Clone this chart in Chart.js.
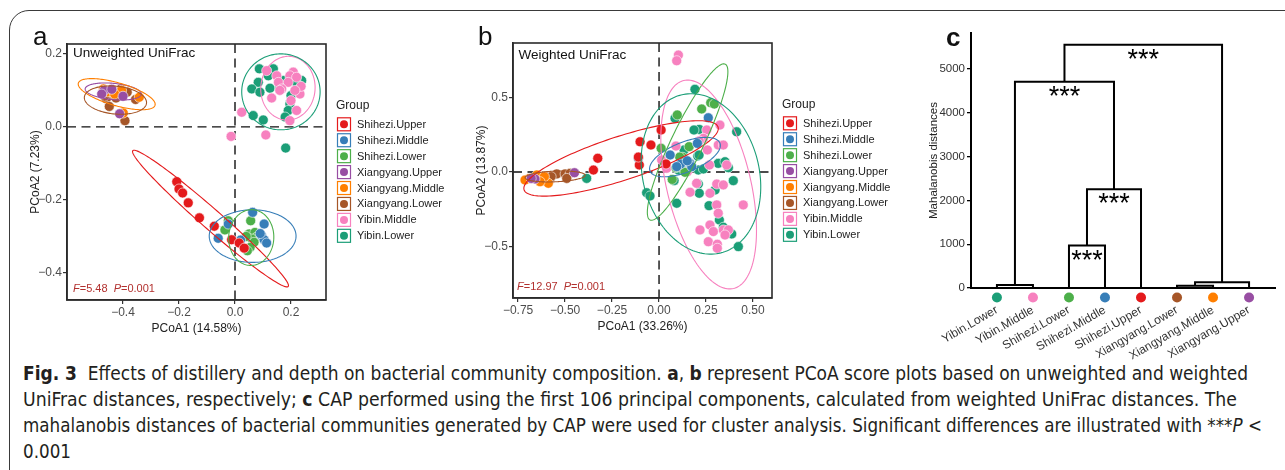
<!DOCTYPE html>
<html><head><meta charset="utf-8">
<script src="https://cdn.jsdelivr.net/npm/chart.js@4.4.0/dist/chart.umd.min.js"></script>
<style>
html,body{margin:0;padding:0;background:#fff;}
#root{position:relative;width:1285px;height:470px;overflow:hidden;background:#fff;}
#frame{position:absolute;left:9px;top:10px;width:1400px;height:600px;border:1.3px solid #3a3a3a;border-radius:20px 0 0 0;}
canvas{position:absolute;}
.plab{position:absolute;font-family:"Liberation Sans",Arial,sans-serif;font-size:26px;color:#111;line-height:1;}
#cap{position:absolute;left:23px;top:360px;font-family:"Liberation Sans Narrow","DejaVu Sans Condensed","Liberation Sans",sans-serif;font-size:19px;color:#231f20;}
#cap .ln{white-space:nowrap;height:26px;line-height:26px;}
#cap .ln span{display:inline-block;transform-origin:0 50%;}
</style></head>
<body>
<div id="root">
  <div id="frame"></div>
  <canvas id="cA" width="470" height="340" style="left:0;top:0"></canvas>
  <canvas id="cB" width="430" height="340" style="left:470px;top:0"></canvas>
  <canvas id="cC" width="385" height="360" style="left:900px;top:0"></canvas>
  <div class="plab" style="left:33px;top:23px">a</div>
  <div class="plab" style="left:478px;top:23px">b</div>
  <div class="plab" style="left:946px;top:24px;font-weight:bold">c</div>
  <div id="cap">
    <div class="ln" data-w="1225"><span><b>Fig. 3</b>&nbsp; Effects of distillery and depth on bacterial community composition. <b>a</b>, <b>b</b> represent PCoA score plots based on unweighted and weighted</span></div>
    <div class="ln" data-w="1214"><span>UniFrac distances, respectively; <b>c</b> CAP performed using the first 106 principal components, calculated from weighted UniFrac distances. The</span></div>
    <div class="ln" data-w="1239"><span>mahalanobis distances of bacterial communities generated by CAP were used for cluster analysis. Significant differences are illustrated with ***<i>P</i> &lt;</span></div>
    <div class="ln" data-w="0"><span>0.001</span></div>
  </div>
</div>
<script>
// ---------------- DATA ----------------
const groups = ['Shihezi.Upper','Shihezi.Middle','Shihezi.Lower','Xiangyang.Upper','Xiangyang.Middle','Xiangyang.Lower','Yibin.Middle','Yibin.Lower'];
const groupColors = ['#E41A1C','#377EB8','#4DAF4A','#984EA3','#FF7F00','#A65628','#F781BF','#1B9E77'];

// Panel a: Unweighted UniFrac PCoA scores [PCoA1, PCoA2]
const a_ShihUpper = [[-0.208,-0.150],[-0.200,-0.170],[-0.187,-0.181],[-0.167,-0.208],[-0.127,-0.249],[-0.074,-0.272],[-0.012,-0.309],[0.015,-0.318],[0.033,-0.332]];
const a_ShihMiddle = [[-0.060,-0.305],[-0.024,-0.266],[0.020,-0.310],[0.063,-0.234],[0.104,-0.266],[0.095,-0.298],[0.104,-0.309],[0.113,-0.318],[0.090,-0.292]];
const a_ShihLower = [[-0.024,-0.257],[-0.036,-0.282],[0.056,-0.257],[0.051,-0.293],[0.071,-0.289],[0.077,-0.302],[0.060,-0.307],[0.068,-0.316],[0.054,-0.330],[0.044,-0.339],[0.040,-0.300]];
const a_XiangUpper = [[-0.467,0.100],[-0.440,0.103],[-0.400,0.084],[-0.476,0.090],[-0.412,0.036]];
const a_XiangMiddle = [[-0.470,0.104],[-0.405,0.100],[-0.342,0.081],[-0.399,0.038],[-0.455,0.096],[-0.430,0.090]];
const a_XiangLower = [[-0.407,0.104],[-0.460,0.077],[-0.425,0.079],[-0.355,0.075],[-0.449,0.056],[-0.393,0.017],[-0.466,0.084],[-0.385,0.095]];
const a_YibinMiddle = [[0.113,0.154],[0.149,0.140],[0.155,0.122],[0.208,0.150],[0.196,0.140],[0.220,0.136],[0.190,0.122],[0.167,0.104],[0.131,0.079],[0.232,0.090],[0.200,0.072],[0.220,0.045],[0.196,0.017],[0.024,0.040],[-0.014,-0.026],[0.110,-0.022],[0.236,0.111],[0.214,0.100],[0.160,0.100]];
const a_YibinLower = [[0.087,0.159],[0.137,0.159],[0.119,0.140],[0.083,0.122],[0.060,0.104],[0.089,0.095],[0.125,0.106],[0.173,0.127],[0.238,0.127],[0.200,0.086],[0.196,0.063],[0.190,0.045],[0.179,0.027],[0.065,0.031],[0.101,0.019],[0.181,-0.058],[0.220,0.120],[0.160,0.110]];

// Panel b: Weighted UniFrac PCoA scores
const b_ShihUpper = [[0.011,0.282],[-0.101,0.203],[-0.043,0.181],[-0.326,0.092],[-0.349,0.013],[-0.105,0.047],[0.037,0.054],[-0.110,0.100]];
const b_ShihMiddle = [[0.262,0.364],[0.204,0.192],[0.059,0.114],[-0.110,0.092],[0.165,0.058],[0.115,0.054],[0.174,0.036],[0.094,0.036],[0.150,0.075]];
const b_ShihLower = [[0.097,0.383],[0.227,0.423],[0.275,0.465],[0.294,0.456],[0.011,0.159],[0.160,0.170],[0.126,0.099],[0.090,0.029],[0.138,-0.002],[0.110,0.100],[0.070,-0.050]];
const b_XiangUpper = [[-0.660,-0.047],[-0.450,-0.005],[-0.680,-0.043]];
const b_XiangMiddle = [[-0.690,-0.043],[-0.589,-0.076],[-0.650,-0.020],[-0.610,-0.031],[-0.633,-0.065],[-0.713,-0.054]];
const b_XiangLower = [[-0.606,-0.027],[-0.544,-0.013],[-0.500,-0.013],[-0.473,-0.009],[-0.491,-0.043],[-0.574,-0.031]];
const b_YibinMiddle = [[0.103,0.785],[0.094,0.747],[0.254,0.282],[0.236,0.226],[0.324,0.315],[0.315,0.181],[0.342,0.181],[0.014,0.081],[0.268,0.047],[0.360,0.047],[0.165,-0.136],[0.307,-0.081],[0.342,-0.087],[0.271,-0.143],[0.307,-0.221],[0.315,-0.277],[0.448,-0.221],[0.218,-0.389],[0.271,-0.356],[0.289,-0.400],[0.342,-0.389],[0.369,-0.389],[0.351,-0.423],[0.262,-0.468],[0.310,-0.485],[0.310,-0.512],[0.090,0.174],[0.041,0.025],[0.200,-0.076],[0.257,0.148],[0.214,0.208],[0.150,0.002]];
const b_YibinLower = [[0.191,0.555],[0.085,0.360],[0.214,0.286],[0.186,0.282],[0.413,0.270],[0.206,0.107],[0.315,0.058],[0.351,0.069],[0.369,0.029],[0.209,0.013],[0.080,-0.058],[0.103,0.013],[0.121,0.031],[0.209,-0.081],[0.214,-0.143],[0.298,-0.121],[0.395,-0.058],[0.094,-0.210],[0.266,-0.226],[0.321,-0.322],[0.342,-0.371],[0.387,-0.416],[0.422,-0.501],[-0.066,-0.139],[-0.048,-0.161],[-0.385,-0.043],[0.165,0.031],[0.133,0.148],[0.213,0.114],[0.236,0.020]];

// Confidence ellipses: [centre x, centre y, axis-1 x, axis-1 y, axis-2 x, axis-2 y] (data units)
const ellA_ShihUpper = [-0.0875,-0.251,0.2775,-0.186,-0.0235,-0.0207];
const ellA_ShihMiddle = [0.063,-0.299,0.155,0,0,0.072];
const ellA_ShihLower = [0.058,-0.303,0.080,-0.008,0.010,0.076];
const ellA_XiangUpper = [-0.435,0.097,0.100,-0.008,0.006,0.022];
const ellA_XiangMiddle = [-0.4225,0.0896,0.137,-0.025,-0.011,0.0345];
const ellA_XiangLower = [-0.427,0.0734,0.111,-0.008,0.004,0.038];
const ellA_YibinMiddle = [0.189,0.106,0.095,0.020,-0.020,0.085];
const ellA_YibinLower = [0.164,0.096,0.140,0,0,0.104];
const ellB_ShihUpper = [-0.202,0.091,0.516,0.211,0.036,-0.140];
const ellB_ShihMiddle = [0.138,0.100,0.186,0.094,0.030,-0.093];
const ellB_ShihLower = [0.152,0.201,0.200,0.523,0.077,-0.046];
const ellB_XiangLower = [-0.553,-0.030,0.160,0.008,0,0.036];
const ellB_YibinMiddle = [0.264,-0.084,-0.133,0.698,0.217,0.066];
const ellB_YibinLower = [0.223,-0.013,-0.106,0.530,0.300,0.095];

// Tick labels
const aXTicks = [-0.4,-0.2,0.0,0.2];
const aYTicks = [-0.4,-0.2,0.0,0.2];
const bXTicks = [-0.75,-0.5,-0.25,0.0,0.25,0.5];
const bYTicks = [-0.5,0.0,0.5];
const cYTicks = [0,1000,2000,3000,4000,5000];

// Panel c: dendrogram of Mahalanobis distances (CAP)
const leafNames = ['Yibin.Lower','Yibin.Middle','Shihezi.Lower','Shihezi.Middle','Shihezi.Upper','Xiangyang.Lower','Xiangyang.Middle','Xiangyang.Upper'];
const leafColors = ['#1B9E77','#F781BF','#4DAF4A','#377EB8','#E41A1C','#A65628','#FF7F00','#984EA3'];
// children: negative = leaf number (1-based), positive = merge number (1-based)
const mergeLeft = [-1,-3,2,1,-6,5,4];
const mergeRight = [-2,-4,-5,3,-7,-8,6];
const mergeHeight = [70,970,2255,4710,50,130,5555];
const mergeSignif = ['','***','***','***','','','***'];

// ---------------- RENDER ----------------
const FAM = "'Liberation Sans', Arial, Helvetica, sans-serif";
Chart.defaults.font.family = FAM;
Chart.defaults.animation = false;
Chart.defaults.devicePixelRatio = 1;

function fmtMinus(v, d){ return (v < 0 ? '\u2212' : '') + Math.abs(v).toFixed(d); }
function pts(arr){ return arr.map(p => ({x:p[0], y:p[1]})); }

function drawLegend(ctx, x, y){
  ctx.save();
  ctx.font = '12px ' + FAM; ctx.fillStyle = '#222'; ctx.textBaseline = 'middle'; ctx.textAlign = 'left';
  ctx.fillText('Group', x, y);
  ctx.font = '11px ' + FAM;
  groups.forEach((g, i) => {
    const cy = y + 18.3 + i * 15.93;
    ctx.fillStyle = '#fff';
    ctx.fillRect(x + 1, cy - 7, 14, 14);
    ctx.strokeStyle = groupColors[i]; ctx.lineWidth = 1.2;
    ctx.strokeRect(x + 1.5, cy - 6.5, 13, 13);
    ctx.beginPath(); ctx.arc(x + 8, cy, 4, 0, Math.PI * 2);
    ctx.fillStyle = groupColors[i]; ctx.fill();
    ctx.fillStyle = '#222';
    ctx.fillText(g, x + 21, cy + 0.5);
  });
  ctx.restore();
}

function drawStats(ctx, x, y, F, P){
  ctx.save();
  ctx.fillStyle = '#b2302e'; ctx.textBaseline = 'middle'; ctx.textAlign = 'left';
  const parts = [['italic ','F'],['','=' + F + '  '],['italic ','P'],['','=' + P]];
  for (const [st, t] of parts){
    ctx.font = st + '11px ' + FAM;
    ctx.fillText(t, x, y);
    x += ctx.measureText(t).width;
  }
  ctx.restore();
}

const pcoaDecor = {
  id: 'pcoaDecor',
  beforeDatasetsDraw(chart, args, o){
    const {ctx, chartArea: ca, scales: {x, y}} = chart;
    ctx.save();
    ctx.strokeStyle = '#111'; ctx.lineWidth = 1.4; ctx.setLineDash([9, 5.5]);
    const x0 = x.getPixelForValue(0), y0 = y.getPixelForValue(0);
    ctx.beginPath();
    ctx.moveTo(x0, ca.top); ctx.lineTo(x0, ca.bottom);
    ctx.moveTo(ca.left, y0); ctx.lineTo(ca.right, y0);
    ctx.stroke();
    ctx.restore();
  },
  afterDatasetsDraw(chart, args, o){
    const {ctx, chartArea: ca, scales: {x, y}} = chart;
    ctx.save();
    ctx.beginPath(); ctx.rect(ca.left, ca.top, ca.width, ca.height); ctx.clip();
    for (const e of o.ellipses){
      const [cx, cy, ax, ay, bx, by] = e.p;
      ctx.beginPath();
      for (let k = 0; k <= 160; k++){
        const t = k / 160 * Math.PI * 2;
        const px = x.getPixelForValue(cx + Math.cos(t) * ax + Math.sin(t) * bx);
        const py = y.getPixelForValue(cy + Math.cos(t) * ay + Math.sin(t) * by);
        if (k === 0) ctx.moveTo(px, py); else ctx.lineTo(px, py);
      }
      ctx.closePath();
      ctx.strokeStyle = e.color; ctx.lineWidth = 1.1; ctx.stroke();
    }
    ctx.restore();
  },
  afterDraw(chart, args, o){
    const {ctx, chartArea: ca} = chart;
    ctx.save();
    ctx.strokeStyle = '#2b2b2b'; ctx.lineWidth = 1.6;
    ctx.strokeRect(ca.left, ca.top, ca.width, ca.height);
    ctx.font = '13.5px ' + FAM; ctx.fillStyle = '#111'; ctx.textBaseline = 'middle'; ctx.textAlign = 'left';
    ctx.fillText(o.title, ca.left + o.titleDx, ca.top + o.titleDy);
    ctx.restore();
    drawStats(ctx, ca.left + o.statDx, ca.bottom - o.statDy, o.F, o.P);
    drawLegend(ctx, ca.right + 10, ca.top + 62);
  }
};

function pcoaChart(id, series, ells, cfg){
  const datasets = series.map((s, i) => ({
    label: groups[i], data: pts(s),
    backgroundColor: groupColors[i], borderColor: 'rgba(255,255,255,0.85)', borderWidth: 0.7,
    pointRadius: 5
  }));
  const ellipses = ells.map((p, i) => p ? {p, color: groupColors[i]} : null).filter(Boolean);
  const tickFont = {size: 12, family: FAM};
  return new Chart(document.getElementById(id), {
    type: 'scatter',
    data: {datasets},
    plugins: [pcoaDecor],
    options: {
      responsive: false, events: [],
      layout: {padding: cfg.padding},
      plugins: {legend: {display: false}, tooltip: {enabled: false},
        pcoaDecor: {ellipses, title: cfg.title, titleDx: cfg.titleDx, titleDy: cfg.titleDy, F: cfg.F, P: cfg.P, statDx: cfg.statDx, statDy: cfg.statDy}},
      scales: {
        x: {type: 'linear', min: cfg.xMin, max: cfg.xMax,
          afterBuildTicks: s => { s.ticks = cfg.xTicks.map(v => ({value: v})); },
          afterFit: s => { s.height = cfg.xH; },
          grid: {display: true, drawOnChartArea: false, drawTicks: true, tickLength: 4, color: '#333', lineWidth: 1.2},
          border: {display: true, color: '#2b2b2b', width: 1.6},
          ticks: {font: tickFont, color: '#4d4d4d', padding: 1, maxRotation: 0, callback: v => fmtMinus(v, cfg.xDec)},
          title: {display: true, text: cfg.xTitle, font: {size: 12, family: FAM}, color: '#222', padding: {top: 2, bottom: cfg.xTitlePad}}
        },
        y: {type: 'linear', min: cfg.yMin, max: cfg.yMax,
          afterBuildTicks: s => { s.ticks = cfg.yTicks.map(v => ({value: v})); },
          afterFit: s => { s.width = cfg.yW; },
          grid: {display: true, drawOnChartArea: false, drawTicks: true, tickLength: 4, color: '#333', lineWidth: 1.2},
          border: {display: true, color: '#2b2b2b', width: 1.6},
          ticks: {font: tickFont, color: '#4d4d4d', padding: 1, callback: v => fmtMinus(v, 1)},
          title: {display: true, text: cfg.yTitle, font: {size: 12, family: FAM}, color: '#222', padding: {top: 2, bottom: 2}}
        }
      }
    }
  });
}

pcoaChart('cA',
  [a_ShihUpper, a_ShihMiddle, a_ShihLower, a_XiangUpper, a_XiangMiddle, a_XiangLower, a_YibinMiddle, a_YibinLower],
  [ellA_ShihUpper, ellA_ShihMiddle, ellA_ShihLower, ellA_XiangUpper, ellA_XiangMiddle, ellA_XiangLower, ellA_YibinMiddle, ellA_YibinLower],
  {padding: {left: 26, top: 44, right: 144, bottom: 0}, xH: 40, yW: 41,
   xMin: -0.6, xMax: 0.325, yMin: -0.474, yMax: 0.227, xTicks: aXTicks, yTicks: aYTicks, xDec: 1,
   xTitle: 'PCoA1 (14.58%)', yTitle: 'PCoA2 (7.23%)', xTitlePad: 4,
   title: 'Unweighted UniFrac', titleDx: 6, titleDy: 9.5, F: '5.48', P: '0.001', statDx: 6, statDy: 11.3});

pcoaChart('cB',
  [b_ShihUpper, b_ShihMiddle, b_ShihLower, b_XiangUpper, b_XiangMiddle, b_XiangLower, b_YibinMiddle, b_YibinLower],
  [ellB_ShihUpper, ellB_ShihMiddle, ellB_ShihLower, null, null, ellB_XiangLower, ellB_YibinMiddle, ellB_YibinLower],
  {padding: {left: 2, top: 43, right: 128, bottom: 0}, xH: 42, yW: 41,
   xMin: -0.777, xMax: 0.601, yMin: -0.846, yMax: 0.866, xTicks: bXTicks, yTicks: bYTicks, xDec: 2,
   xTitle: 'PCoA1 (33.26%)', yTitle: 'PCoA2 (13.87%)', xTitlePad: 6,
   title: 'Weighted UniFrac', titleDx: 5.5, titleDy: 12.5, F: '12.97', P: '0.001', statDx: 4, statDy: 11});

// ---- Panel c: dendrogram ----
const mPos = [], mH = [];
function childInfo(c){ return c < 0 ? {p: -c, h: 0} : {p: mPos[c - 1], h: mH[c - 1]}; }
const dendroSets = [];
mergeHeight.forEach((h, i) => {
  const L = childInfo(mergeLeft[i]), R = childInfo(mergeRight[i]);
  mPos[i] = (L.p + R.p) / 2; mH[i] = h;
  dendroSets.push({
    type: 'line', data: [{x: L.p, y: L.h}, {x: L.p, y: h}, {x: R.p, y: h}, {x: R.p, y: R.h}],
    borderColor: '#000', borderWidth: 2, pointRadius: 0, fill: false, tension: 0, clip: false
  });
});

const dendroDecor = {
  id: 'dendroDecor',
  afterDraw(chart){
    const {ctx, chartArea: ca, scales: {x, y}} = chart;
    ctx.save();
    leafNames.forEach((n, i) => {
      ctx.beginPath(); ctx.arc(x.getPixelForValue(i + 1), ca.bottom + 9.5, 5, 0, Math.PI * 2);
      ctx.fillStyle = leafColors[i]; ctx.fill();
    });
    ctx.font = '27px ' + FAM; ctx.fillStyle = '#000'; ctx.textAlign = 'center'; ctx.textBaseline = 'alphabetic';
    mergeSignif.forEach((s, i) => {
      if (!s) return;
      ctx.fillText(s, x.getPixelForValue(mPos[i]), y.getPixelForValue(mH[i]) + 23);
    });
    ctx.restore();
  }
};

new Chart(document.getElementById('cC'), {
  type: 'line',
  data: {datasets: dendroSets},
  plugins: [dendroDecor],
  options: {
    responsive: false, events: [],
    layout: {padding: {left: 25, top: 33, right: 10, bottom: 0}},
    plugins: {legend: {display: false}, tooltip: {enabled: false}},
    scales: {
      x: {type: 'linear', min: 0.28, max: 8.72,
        afterBuildTicks: s => { s.ticks = leafNames.map((n, i) => ({value: i + 1})); },
        afterFit: s => { s.height = 72; },
        grid: {display: false, drawTicks: false},
        border: {display: true, color: '#000', width: 2},
        ticks: {autoSkip: false, minRotation: 30, maxRotation: 30, padding: 15, color: '#333',
          font: {size: 12, family: FAM}, callback: v => leafNames[v - 1]}
      },
      y: {type: 'linear', min: 0, max: 5822,
        afterBuildTicks: s => { s.ticks = cYTicks.map(v => ({value: v})); },
        afterFit: s => { s.width = 46; },
        grid: {display: true, drawOnChartArea: false, drawTicks: true, tickLength: 4, color: '#000', lineWidth: 1.3},
        border: {display: true, color: '#000', width: 2},
        ticks: {font: {size: 11.5, family: FAM}, color: '#333', padding: 2, callback: v => String(v)},
        title: {display: true, text: 'Mahalanobis distances', font: {size: 11.5, family: FAM}, color: '#222', padding: {top: 2, bottom: 2}}
      }
    }
  }
});

// ---- caption line fitting ----
(function(){
  let last = 1;
  document.querySelectorAll('#cap .ln').forEach(el => {
    const sp = el.querySelector('span');
    const t = +el.dataset.w;
    const w = sp.getBoundingClientRect().width;
    const k = t ? t / w : last;
    sp.style.transform = 'scaleX(' + k + ')';
    last = k;
  });
})();
</script>
</body></html>
